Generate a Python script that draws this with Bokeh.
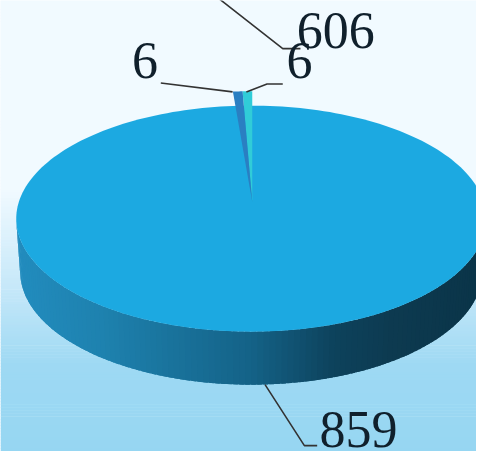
import numpy as np
from bokeh.plotting import figure
from bokeh.models import Range1d
from bokeh.embed import file_html
from bokeh.resources import INLINE
from bokeh.core.properties import value

labels = ["606", "6", "6", "859"]
series_values = [606, 6, 6, 859]

W, H = 476, 451
CX, CY, RX, RY, DEPTH = 255.0, 222.0, 239.0, 115.0, 54.0
RX_BOTTOM = 235.0

p = figure(width=W, height=H, output_backend="svg", toolbar_location=None,
           x_range=Range1d(0, 484), y_range=Range1d(459, 0),
           min_border=0, outline_line_color=None)
p.axis.visible = False
p.grid.visible = False
p.background_fill_color = "#f2faff"
p.border_fill_color = None


def lerp(stops, t):
    ts = [s[0] for s in stops]
    return tuple(int(round(np.interp(t, ts, [s[1][i] for s in stops]))) for i in range(3))


def hexc(c):
    return "#%02x%02x%02x" % tuple(c)


# page background gradient
bg = [(0, (241, 250, 255)), (190, (241, 250, 255)), (290, (198, 232, 249)),
      (370, (158, 217, 243)), (459, (150, 214, 242))]
ys = np.arange(0, 460, 3)
p.quad(left=0, right=484, top=ys, bottom=ys + 3.5,
       fill_color=[hexc(lerp(bg, y)) for y in ys], line_color=None)

# side wall as shaded strips
wall = [(16, (34, 140, 190)), (100, (30, 130, 175)), (255, (20, 98, 135)),
        (340, (13, 66, 92)), (400, (13, 58, 80)), (494, (10, 52, 72))]
edges = np.linspace(np.pi, 0, 121)
xs_list, ys_list, cols = [], [], []
for a0, a1 in zip(edges[:-1], edges[1:]):
    aa = np.linspace(a0, max(a1 - 0.02, 0), 3)
    x_top = CX + RX * np.cos(aa)
    y_top = CY + RY * np.sin(aa)
    x_bot = CX + RX_BOTTOM * np.cos(aa)
    y_bot = CY + DEPTH + RY * np.sin(aa)
    xs_list.append(list(x_top) + list(x_bot[::-1]))
    ys_list.append(list(y_top) + list(y_bot[::-1]))
    cols.append(hexc(lerp(wall, float(x_top[:2].mean()))))
p.patches(xs_list, ys_list, fill_color=cols, line_color=None)

# top face
t = np.linspace(0, 2 * np.pi, 241)
p.patch(CX + RX * np.cos(t), CY + RY * np.sin(t), fill_color="#1ca9e1", line_color=None)

# thin wedges, angular width scaled from their values
total = sum(series_values)
TIP = (256.0, 205.0)
STRETCH = 1.65


def wedge(a_deg0, span, color):
    a = np.radians(np.linspace(a_deg0, a_deg0 + span, 6))
    x = TIP[0] + RX * 0.98 * np.sin(a)
    y = TIP[1] - RY * 0.98 * np.cos(a)
    p.patch([TIP[0]] + list(x), [TIP[1]] + list(y), fill_color=color, line_color=None)


span_blue = series_values[1] / total * 360 * STRETCH
span_teal = series_values[2] / total * 360 * STRETCH
wedge(-span_teal, span_teal, "#30ccd8")
wedge(-span_teal - span_blue, span_blue, "#2a7fc2")

# leader lines
leaders = [
    ([222, 287, 305], [-2, 49, 49]),
    ([163, 236], [84, 93]),
    ([287, 271, 250], [85, 85, 93]),
    ([269, 309, 322], [391, 453, 453]),
]
for lx, ly in leaders:
    p.line(lx, ly, line_color="#333333", line_width=1.6)

# labels
label_pos = [(341, 48), (147, 79), (304, 79), (364, 454)]
p.text(x=[q[0] for q in label_pos], y=[q[1] for q in label_pos], text=labels,
       text_font=value("Liberation Serif"), text_font_size="52px",
       text_align="center", text_baseline="bottom", text_color="#10202c")

open("out.html", "w").write(file_html(p, INLINE))
